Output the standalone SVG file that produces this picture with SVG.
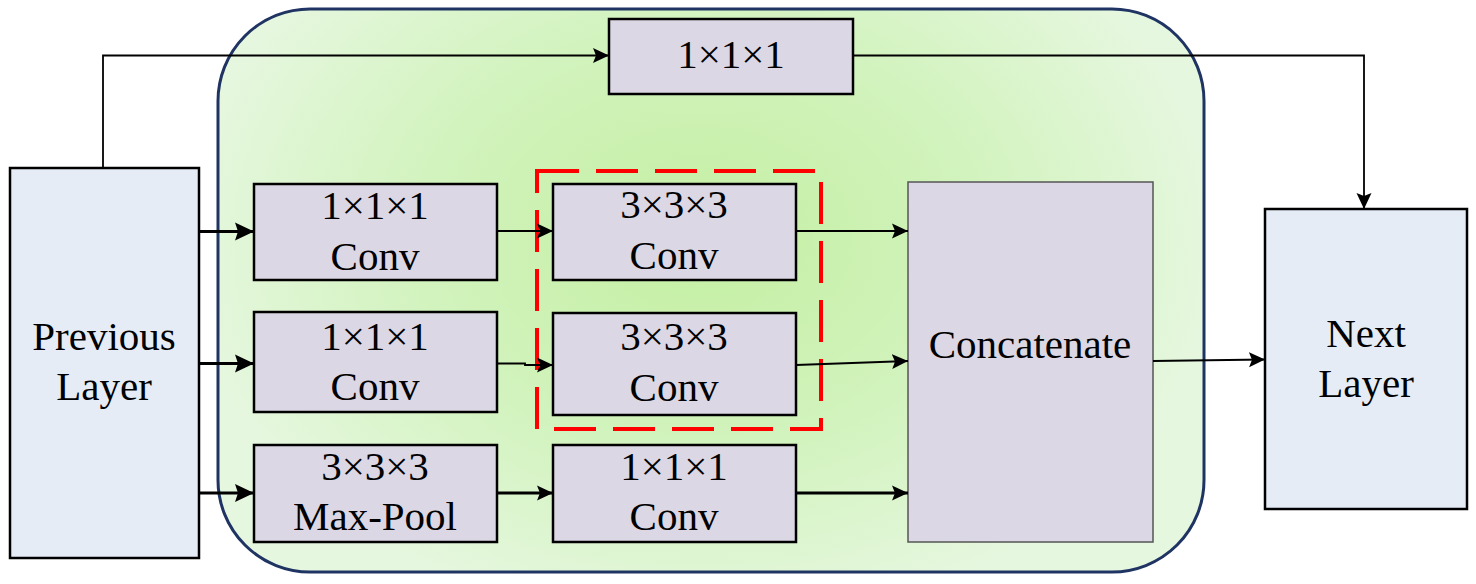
<svg xmlns="http://www.w3.org/2000/svg" width="1476" height="584" viewBox="0 0 1476 584">
<defs>
<radialGradient id="g" gradientUnits="userSpaceOnUse" cx="700" cy="240" r="520" gradientTransform="translate(700 240) scale(1 0.75) translate(-700 -240)">
<stop offset="0" stop-color="#c4efa2"/>
<stop offset="0.55" stop-color="#d2f3be"/>
<stop offset="1" stop-color="#e6f7df"/>
</radialGradient>
<marker id="ab" markerUnits="userSpaceOnUse" markerWidth="20" markerHeight="20" viewBox="0 0 20 20" refX="19" refY="10" orient="auto">
<path d="M0,1 L19,10 L0,19 L3,10 z" fill="#000"/>
</marker>
<marker id="as" markerUnits="userSpaceOnUse" markerWidth="18" markerHeight="18" viewBox="0 0 18 18" refX="16" refY="9" orient="auto">
<path d="M0,1.5 L16,9 L0,16.5 L3,9 z" fill="#000"/>
</marker>
<style>
.box{fill:#dcd7e4;stroke:#000;stroke-width:2.5}
.lay{fill:#e5ecf6;stroke:#000;stroke-width:2.5}
.t{font-family:'Liberation Serif','Times New Roman',Tinos,'Noto Serif','Nimbus Roman','FreeSerif','DejaVu Serif',Times,serif;font-size:41px;fill:#000;text-anchor:middle}
.c{fill:none;stroke:#000;stroke-width:1.8}
.ct{fill:none;stroke:#000;stroke-width:3}
</style>
</defs>
<rect width="1476" height="584" fill="#fff"/>
<g id="module">
<rect x="218" y="9" width="986" height="563" rx="92" ry="92" fill="url(#g)" stroke="#1f3463" stroke-width="3"/>
</g>
<g id="prev">
<rect class="lay" x="10" y="168" width="189" height="390"/>
<text class="t" x="104" y="350">Previous</text>
<text class="t" x="104" y="400">Layer</text>
</g>
<g id="next">
<rect class="lay" x="1265" y="209" width="202" height="300"/>
<text class="t" x="1366" y="347">Next</text>
<text class="t" x="1366" y="397">Layer</text>
</g>
<g id="top111">
<rect class="box" x="609" y="19" width="244" height="75"/>
<text class="t" x="731" y="68">1×1×1</text>
</g>
<g id="conv1a">
<rect class="box" x="254" y="184" width="243" height="96"/>
<text class="t" x="375" y="219">1×1×1</text>
<text class="t" x="375" y="270">Conv</text>
</g>
<g id="conv1b">
<rect class="box" x="254" y="312" width="243" height="100"/>
<text class="t" x="375" y="350">1×1×1</text>
<text class="t" x="375" y="400">Conv</text>
</g>
<g id="maxpool">
<rect class="box" x="254" y="445" width="243" height="97"/>
<text class="t" x="375" y="480">3×3×3</text>
<text class="t" x="375" y="530">Max-Pool</text>
</g>
<g id="conv3a">
<rect class="box" x="553" y="184" width="243" height="96"/>
<text class="t" x="674" y="218">3×3×3</text>
<text class="t" x="674" y="269">Conv</text>
</g>
<g id="conv3b">
<rect class="box" x="553" y="313" width="243" height="102"/>
<text class="t" x="674" y="350">3×3×3</text>
<text class="t" x="674" y="401">Conv</text>
</g>
<g id="conv1c">
<rect class="box" x="553" y="445" width="243" height="97"/>
<text class="t" x="674" y="480">1×1×1</text>
<text class="t" x="674" y="530">Conv</text>
</g>
<g id="concat">
<rect x="908" y="182" width="245" height="360" fill="#dcd7e4" stroke="#555" stroke-width="1.5"/>
<text class="t" x="1030" y="358">Concatenate</text>
</g>
<g id="highlight">
<rect x="537" y="171" width="284" height="258" fill="none" stroke="#ff0000" stroke-width="4" stroke-dasharray="42 17"/>
</g>
<g id="connectors">
<path class="c" d="M103,168 V55.5 H609" marker-end="url(#as)"/>
<path class="c" d="M853,55.5 H1364 V209" marker-end="url(#as)"/>
<path class="ct" d="M199,231.5 H254" marker-end="url(#ab)"/>
<path class="ct" d="M199,363.5 H254" marker-end="url(#ab)"/>
<path class="ct" d="M199,493 H254" marker-end="url(#ab)"/>
<path class="c" d="M497,231 H553" marker-end="url(#as)"/>
<path class="c" d="M497,363.5 H525 V365 H553" marker-end="url(#as)"/>
<path class="ct" d="M497,493 H553" marker-end="url(#as)"/>
<path class="c" d="M796,231 H908" marker-end="url(#as)"/>
<path class="c" d="M796,365 L908,361" marker-end="url(#as)"/>
<path class="ct" d="M796,493 H908" marker-end="url(#as)"/>
<path class="c" d="M1153,361 L1265,359.5" marker-end="url(#as)"/>
</g>
</svg>
